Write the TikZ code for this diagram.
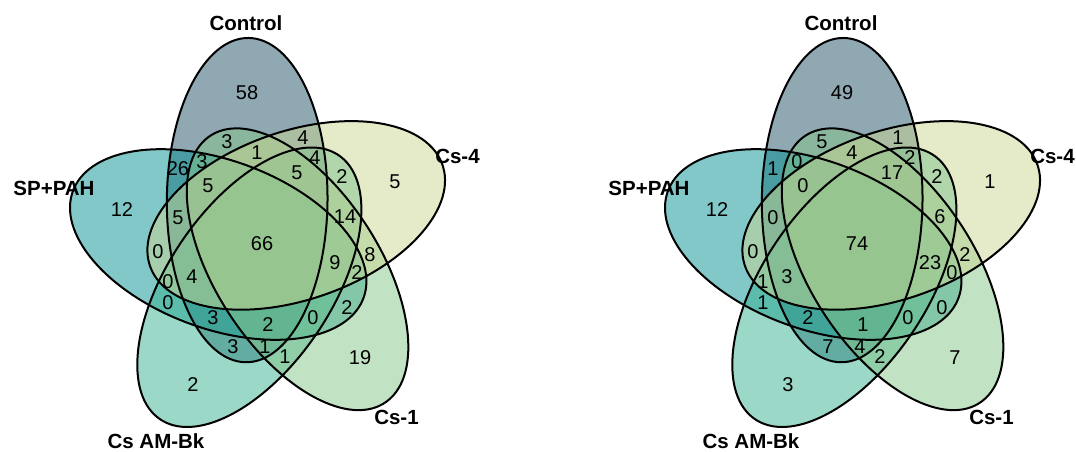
\documentclass[tikz,border=0pt]{standalone}
\usepackage{fontspec}
\setmainfont{Liberation Sans}
\definecolor{ctrlfill}{HTML}{1F5165}
\definecolor{sppahfill}{HTML}{059191}
\definecolor{amfill}{HTML}{37B191}
\definecolor{csonefill}{HTML}{85C589}
\definecolor{csfourfill}{HTML}{CBD591}
\tikzset{
  setfill/.style={fill=#1, fill opacity=0.5},
  setoutline/.style={draw=black, line width=2pt},
  count/.style={font=\fontsize{20}{24}\selectfont, inner sep=0pt, text=black},
  setname/.style={font=\fontsize{20.5}{24}\selectfont\bfseries, inner sep=0pt, text=black},
}
% Five rotated ellipses of the five-set layout, around the current origin.
% Order: Control, SP+PAH, Cs AM-Bk, Cs-1, Cs-4 (counter-clockwise from the top).
\newcommand{\fiveellipses}{%
  \begin{scope}[x=10pt, y=10pt, xscale=33.47, yscale=35.25]
    \foreach \k/\col in {0/ctrlfill,1/sppahfill,2/amfill,3/csonefill,4/csfourfill}{
      \pgfmathsetmacro\cang{109.5+72*\k}
      \pgfmathsetmacro\tilt{\cang-20}
      \pgfmathsetmacro\ecx{0.13*cos(\cang)}
      \pgfmathsetmacro\ecy{0.13*sin(\cang)}
      \path[setfill=\col, rotate around={\tilt:(\ecx,\ecy)}]
        (\ecx,\ecy) ellipse [x radius=0.46, y radius=0.24];
    }
    \foreach \k in {0,...,4}{
      \pgfmathsetmacro\cang{109.5+72*\k}
      \pgfmathsetmacro\tilt{\cang-20}
      \pgfmathsetmacro\ecx{0.13*cos(\cang)}
      \pgfmathsetmacro\ecy{0.13*sin(\cang)}
      \path[setoutline, rotate around={\tilt:(\ecx,\ecy)}]
        (\ecx,\ecy) ellipse [x radius=0.46, y radius=0.24];
    }
  \end{scope}}
\begin{document}
\begin{tikzpicture}[x=1pt, y=-1pt]
\useasboundingbox (0,0) rectangle (1076,451);

% the two diagrams
\begin{scope}[shift={(261.7,243.3)}] \fiveellipses \end{scope}
\begin{scope}[shift={(856.7,243.3)}] \fiveellipses \end{scope}

% set names
\foreach \side/\dx in {L/0, R/595}{
  \node[setname] (control-\side) at (246+\dx,23)    {Control};
  \node[setname] (csfour-\side)  at (457.5+\dx,156.5) {Cs-4};
  \node[setname] (sppah-\side)   at (54+\dx,188.5)  {SP+PAH};
  \node[setname] (amb-\side)     at (156+\dx,441.5) {Cs AM-Bk};
  \node[setname] (csone-\side)   at (396.5+\dx,417.5) {Cs-1};
}

% region counts: position / left diagram / right diagram
\foreach \px/\py/\a/\b [count=\i] in {
  247/93/58/49, 227/142/3/5, 303/138/4/1, 257/153/1/4, 202/162/3/0,
  178/169/26/1, 315/158/4/2, 297/173/5/17, 208/186/5/0, 342/177/2/2,
  178/218/5/0, 345/217/14/6, 262/244/66/74, 158/252/0/0, 370/255/8/2,
  335/263/9/23, 357/273/2/0, 192/277/4/3, 168/282/0/1, 168/303/0/1,
  213/318/3/2, 268/325/2/1, 313/318/0/0, 347/308/2/0, 233/347/3/7,
  265/347/1/4, 285/357/1/2, 360/358/19/7, 122/210/12/12, 395/182/5/1,
  193/385/2/3}{
  \node[count] (nl\i) at (\px,\py) {\a};
  \node[count] (nr\i) at (\px+595,\py) {\b};
}
\end{tikzpicture}
\end{document}
